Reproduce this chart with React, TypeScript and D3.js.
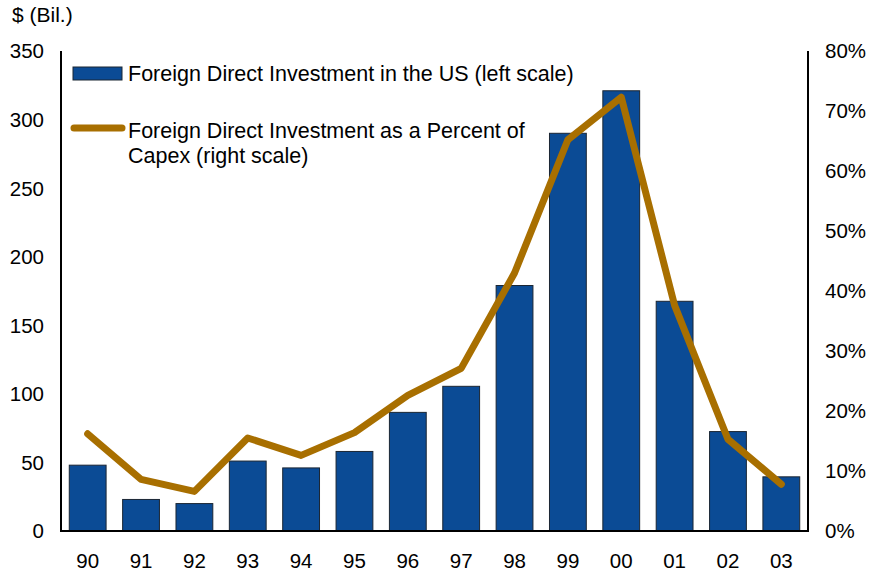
import React from 'react';
import * as d3 from 'd3';

// years shown on the x axis
const years = ['90', '91', '92', '93', '94', '95', '96', '97', '98', '99', '00', '01', '02', '03'];
// $ billions, left scale
const fdi = [48, 23, 20, 51, 46, 58, 86.5, 105.5, 179, 290, 321, 167.5, 72.5, 39.5];
// percent of capex, right scale
const fdiPctCapex = [16.2, 8.6, 6.6, 15.5, 12.6, 16.4, 22.6, 27.1, 43, 65.2, 72.3, 37.6, 15.3, 7.8];

const leftTicks = [0, 50, 100, 150, 200, 250, 300, 350];
const rightTicks = [0, 10, 20, 30, 40, 50, 60, 70, 80];

const W = 869;
const H = 573;
const margin = { top: 51, right: 61, bottom: 42, left: 61 };
const font = '"Liberation Sans", Arial, sans-serif';
const barColor = '#0b4b95';
const lineColor = '#a86f00';

export default function App() {
  const x = d3.scaleBand<string>()
    .domain(years)
    .range([margin.left, W - margin.right])
    .paddingInner(0.31)
    .paddingOuter(0.155);

  const yL = d3.scaleLinear().domain([0, 350]).range([H - margin.bottom, margin.top]);
  const yR = d3.scaleLinear().domain([0, 80]).range([H - margin.bottom, margin.top]);

  const line = d3.line<number>()
    .x((_, i) => (x(years[i]) as number) + x.bandwidth() / 2)
    .y(d => yR(d));

  const x0 = margin.left;
  const x1 = W - margin.right;
  const yb = H - margin.bottom;

  return (
    <svg width={W} height={H} style={{ position: 'absolute', left: 0, top: 0, background: '#fff' }}
      fontFamily={font}>
      <text x={12} y={22} fontSize={21}>$ (Bil.)</text>

      {/* bars */}
      {fdi.map((v, i) => (
        <rect key={years[i]} x={x(years[i])} y={yL(v)} width={x.bandwidth()} height={yb - yL(v)}
          fill={barColor} stroke="#1b2633" strokeWidth={1} />
      ))}

      {/* percent line */}
      <path d={line(fdiPctCapex) || ''} fill="none" stroke={lineColor} strokeWidth={7}
        strokeLinejoin="round" strokeLinecap="round" />

      {/* axes */}
      <line x1={x0} x2={x0} y1={margin.top} y2={yb + 1} stroke="#000" strokeWidth={2} />
      <line x1={x1} x2={x1} y1={margin.top} y2={yb + 1} stroke="#000" strokeWidth={2} />
      <line x1={x0 - 1} x2={x1 + 1} y1={yb} y2={yb} stroke="#000" strokeWidth={2} />

      {leftTicks.map(t => (
        <text key={'l' + t} x={44} y={yL(t)} dy="0.36em" fontSize={20.5} textAnchor="end">{t}</text>
      ))}
      {rightTicks.map(t => (
        <text key={'r' + t} x={825} y={yR(t)} dy="0.36em" fontSize={20.5}>{t}%</text>
      ))}
      {years.map(yr => (
        <text key={'x' + yr} x={(x(yr) as number) + x.bandwidth() / 2} y={568} fontSize={20.5}
          textAnchor="middle">{yr}</text>
      ))}

      {/* legend */}
      <rect x={73} y={67} width={49} height={13} fill={barColor} stroke="#1b2633" strokeWidth={1} />
      <text x={128} y={81} fontSize={21.5}>Foreign Direct Investment in the US (left scale)</text>
      <line x1={74} x2={122} y1={128} y2={128} stroke={lineColor} strokeWidth={7} strokeLinecap="round" />
      <text x={128} y={138} fontSize={21.5}>Foreign Direct Investment as a Percent of</text>
      <text x={128} y={163} fontSize={21.5}>Capex (right scale)</text>
    </svg>
  );
}
